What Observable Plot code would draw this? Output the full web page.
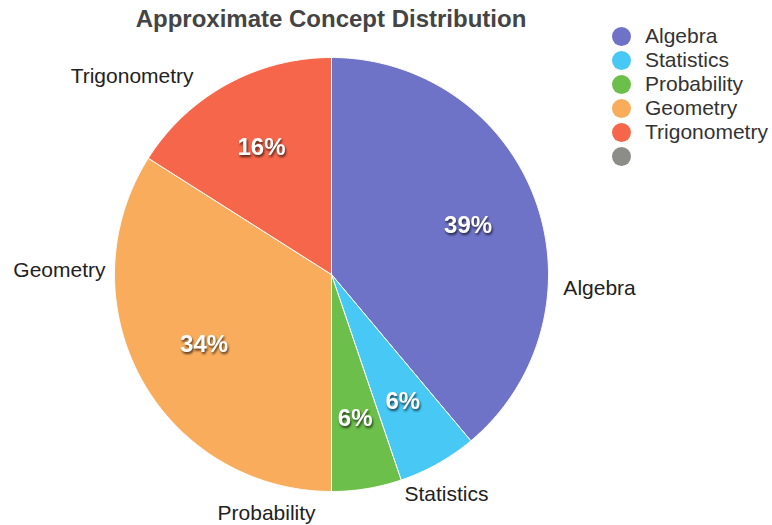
<!DOCTYPE html>
<html>
<head>
<meta charset="utf-8">
<script src="https://cdn.jsdelivr.net/npm/d3@7"></script>
<script src="https://cdn.jsdelivr.net/npm/@observablehq/plot@0.6"></script>
<style>
  html, body { margin: 0; padding: 0; background: #fff; }
  #wrap { position: relative; width: 772px; height: 525px; font-family: "Liberation Sans", Arial, Helvetica, sans-serif; }
  #title { position: absolute; left: 0; width: 662px; top: 5px; text-align: center; font-size: 24px; font-weight: bold; color: #444; }
  #legend { position: absolute; left: 612px; top: 24px; }
  .item { display: flex; align-items: center; height: 24px; font-size: 21px; color: #333; }
  .sw { width: 19px; height: 19px; border-radius: 50%; margin-right: 14px; flex: none; }
</style>
</head>
<body>
<div id="wrap">
  <div id="chart"></div>
  <div id="title">Approximate Concept Distribution</div>
  <div id="legend"></div>
</div>
<script>
// ---- data ----
const categories = ["Algebra", "Statistics", "Probability", "Geometry", "Trigonometry"];
const values = [38.9, 5.9, 5.2, 34, 16];
const percentLabels = ["39%", "6%", "6%", "34%", "16%"];
const colors = ["#6e73c8", "#48c8f5", "#6cbf4a", "#f9ad5c", "#f6664a"];
const legendExtraColor = "#8c8c88";
// outer label placement (angle from top clockwise in degrees, radius factor)
const outerAngle = [93, 152.4, 195.2, 270.8, 314.8];
const outerRadius = [1.237, 1.144, 1.141, 1.254, 1.295];
const innerRadius = 0.67;

// ---- geometry ----
const arcs = d3.pie().sort(null).value(d => d.value)(categories.map((c, i) => ({cat: c, value: values[i], label: percentLabels[i]})));
const polys = [];
arcs.forEach(a => {
  polys.push({cat: a.data.cat, x: 0, y: 0});
  const n = Math.max(2, Math.ceil((a.endAngle - a.startAngle) / (Math.PI / 360)));
  for (let k = 0; k <= n; k++) {
    const t = a.startAngle + (a.endAngle - a.startAngle) * k / n;
    polys.push({cat: a.data.cat, x: Math.sin(t), y: Math.cos(t)});
  }
  polys.push({cat: a.data.cat, x: 0, y: 0});
});
const inner = arcs.map(a => {
  const m = (a.startAngle + a.endAngle) / 2;
  return {label: a.data.label, x: innerRadius * Math.sin(m), y: innerRadius * Math.cos(m)};
});
const outer = categories.map((c, i) => {
  const t = outerAngle[i] * Math.PI / 180;
  return {label: c, x: outerRadius[i] * Math.sin(t), y: outerRadius[i] * Math.cos(t)};
});

const R = 217, cx = 331, cy = 274;
const plot = Plot.plot({
  width: 772,
  height: 525,
  marginLeft: cx - R,
  marginRight: 772 - (cx + R),
  marginTop: cy - R,
  marginBottom: 525 - (cy + R),
  x: {domain: [-1, 1], axis: null},
  y: {domain: [-1, 1], axis: null},
  color: {domain: categories, range: colors},
  style: {fontFamily: "Liberation Sans, Arial, Helvetica, sans-serif", background: "transparent"},
  marks: [
    Plot.line(polys, {x: "x", y: "y", z: "cat", fill: "cat", stroke: "white", strokeWidth: 1, curve: "linear-closed"}),
    Plot.text(inner, {x: "x", y: "y", text: "label", fill: "white", fontSize: 24, fontWeight: "bold"}),
    Plot.text(outer, {x: "x", y: "y", text: "label", fill: "#222", fontSize: 21, clip: false})
  ]
});
// drop shadow on the percent labels
const textGroups = plot.querySelectorAll("g[aria-label='text']");
if (textGroups.length) textGroups[0].style.filter = "drop-shadow(1px 2px 1px rgba(0,0,0,0.65))";
document.getElementById("chart").appendChild(plot);

// legend
const lg = document.getElementById("legend");
categories.concat([""]).forEach((c, i) => {
  const row = document.createElement("div");
  row.className = "item";
  const sw = document.createElement("div");
  sw.className = "sw";
  sw.style.background = i < colors.length ? colors[i] : legendExtraColor;
  const tx = document.createElement("span");
  tx.textContent = c;
  row.appendChild(sw); row.appendChild(tx);
  lg.appendChild(row);
});
</script>
</body>
</html>
